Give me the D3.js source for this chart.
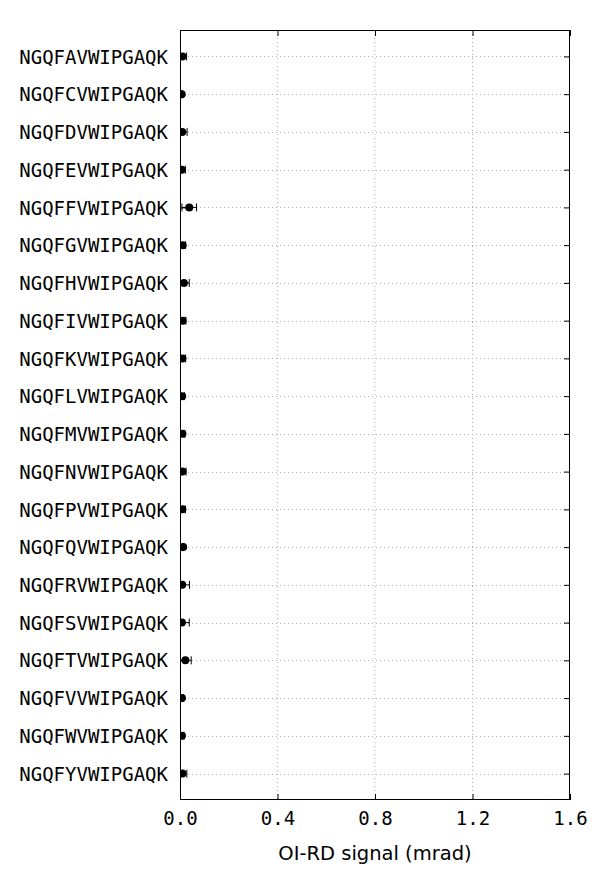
<!DOCTYPE html>
<html><head><meta charset="utf-8">
<script src="https://cdn.jsdelivr.net/npm/d3@7"></script>
<style>body{margin:0;background:#fff}svg{display:block}</style>
</head><body>
<script>
const categories = ["NGQFAVWIPGAQK","NGQFCVWIPGAQK","NGQFDVWIPGAQK","NGQFEVWIPGAQK","NGQFFVWIPGAQK","NGQFGVWIPGAQK","NGQFHVWIPGAQK","NGQFIVWIPGAQK","NGQFKVWIPGAQK","NGQFLVWIPGAQK","NGQFMVWIPGAQK","NGQFNVWIPGAQK","NGQFPVWIPGAQK","NGQFQVWIPGAQK","NGQFRVWIPGAQK","NGQFSVWIPGAQK","NGQFTVWIPGAQK","NGQFVVWIPGAQK","NGQFWVWIPGAQK","NGQFYVWIPGAQK"];
const values = [0.010,0.007,0.009,0.007,0.038,0.011,0.016,0.011,0.010,0.009,0.010,0.010,0.010,0.013,0.009,0.008,0.022,0.008,0.008,0.010];
const errors = [0.017,0.003,0.020,0.015,0.030,0.012,0.022,0.013,0.013,0.009,0.010,0.015,0.012,0.002,0.030,0.030,0.024,0.005,0.008,0.018];
const xTicks = [0.0,0.4,0.8,1.2,1.6];
const xLabel = "OI-RD signal (mrad)";

const W=600,H=880, L=180,R=570,T=30,B=800;
const svg=d3.select("body").append("svg").attr("width",W).attr("height",H);
const x=d3.scaleLinear().domain([0,1.6]).range([L,R]);
const y=d3.scaleLinear().domain([-0.7,19.7]).range([T,B]);
const idx=categories.map((d,i)=>i);

// grid
const g=svg.append("g");
g.selectAll(".vg").data(xTicks.slice(1,-1)).join("line")
 .attr("x1",d=>x(d)).attr("x2",d=>x(d)).attr("y1",T).attr("y2",B)
 .attr("stroke","#b0b0b0").attr("stroke-dasharray","1,3").attr("stroke-width",1);
g.selectAll(".hg").data(idx).join("line")
 .attr("x1",L).attr("x2",R).attr("y1",d=>Math.round(y(d))+0.5).attr("y2",d=>Math.round(y(d))+0.5)
 .attr("stroke","#b0b0b0").attr("stroke-dasharray","1,3").attr("stroke-width",1);

// axes with inward ticks
const fmt=d3.format(".1f");
const ax=svg.append("g").attr("transform",`translate(0,${B})`)
 .call(d3.axisBottom(x).tickValues(xTicks).tickFormat(fmt).tickSizeInner(-6).tickSizeOuter(0).tickPadding(12));
const axTop=svg.append("g").attr("transform",`translate(0,${T})`)
 .call(d3.axisTop(x).tickValues(xTicks).tickFormat("").tickSizeInner(-6).tickSizeOuter(0));
const ay=svg.append("g").attr("transform",`translate(${L},0)`)
 .call(d3.axisLeft(y).tickValues(idx).tickFormat(i=>categories[i]).tickSizeInner(-6).tickSizeOuter(0).tickPadding(12));
const ayR=svg.append("g").attr("transform",`translate(${R},0)`)
 .call(d3.axisRight(y).tickValues(idx).tickFormat("").tickSizeInner(-6).tickSizeOuter(0));
[ax,axTop,ay,ayR].forEach(a=>{a.select(".domain").remove();a.selectAll("line").attr("stroke","#000");});
ax.selectAll("text").attr("font-family","DejaVu Sans Mono").attr("font-size",19).attr("fill","#000");
ay.selectAll("text").attr("font-family","DejaVu Sans Mono").attr("font-size",19).attr("fill","#000").attr("dy","0.35em");

// frame
svg.append("rect").attr("x",L+0.5).attr("y",T+0.5).attr("width",R-L-1).attr("height",B-T-1)
 .attr("fill","none").attr("stroke","#000").attr("stroke-width",1);

// error bars and points
const clip=svg.append("clipPath").attr("id","c").append("rect").attr("x",L).attr("y",T).attr("width",R-L).attr("height",B-T);
const pts=svg.append("g").attr("clip-path","url(#c)");
pts.selectAll(".eb").data(idx).join("line")
 .attr("x1",i=>x(values[i]-errors[i])).attr("x2",i=>x(values[i]+errors[i]))
 .attr("y1",i=>y(i)).attr("y2",i=>y(i)).attr("stroke","#000").attr("stroke-width",1);
pts.selectAll(".capL").data(idx).join("line")
 .attr("x1",i=>x(values[i]-errors[i])).attr("x2",i=>x(values[i]-errors[i]))
 .attr("y1",i=>y(i)-4).attr("y2",i=>y(i)+4).attr("stroke","#000");
pts.selectAll(".capR").data(idx).join("line")
 .attr("x1",i=>x(values[i]+errors[i])).attr("x2",i=>x(values[i]+errors[i]))
 .attr("y1",i=>y(i)-4).attr("y2",i=>y(i)+4).attr("stroke","#000");
pts.selectAll("circle").data(idx).join("circle")
 .attr("cx",i=>x(values[i])).attr("cy",i=>y(i)).attr("r",4).attr("fill","#000");

svg.append("text").attr("x",(L+R)/2).attr("y",860).attr("text-anchor","middle")
 .attr("font-family","DejaVu Sans").attr("font-size",19.5).attr("fill","#000").text(xLabel);
</script>
</body></html>
